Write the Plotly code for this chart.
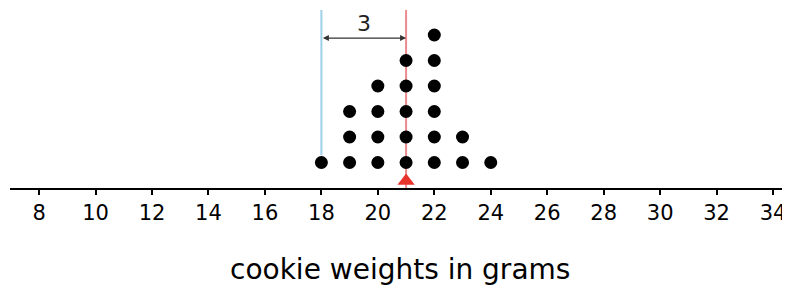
import plotly.graph_objects as go

weights = [18, 19, 20, 21, 22, 23, 24]
counts = [1, 3, 4, 5, 6, 2, 1]
tick_vals = list(range(8, 35, 2))
tick_text = [str(v) for v in tick_vals]
blue_line_x = 18
red_line_x = 21
diff_label = "3"
x_title = "cookie weights in grams"

xs, ys = [], []
for w, c in zip(weights, counts):
    for k in range(1, c + 1):
        xs.append(w)
        ys.append(k)

fig = go.Figure()
fig.add_trace(go.Scatter(x=[blue_line_x, blue_line_x], y=[1.28, 6.98], mode="lines",
                         line=dict(color="#9fd0e8", width=2), hoverinfo="skip"))
fig.add_trace(go.Scatter(x=[red_line_x, red_line_x], y=[0, 6.98], mode="lines",
                         line=dict(color="#ec8a8e", width=2), hoverinfo="skip"))
fig.add_trace(go.Scatter(x=xs, y=ys, mode="markers",
                         marker=dict(color="black", size=13), hoverinfo="skip"))
fig.add_trace(go.Scatter(x=[red_line_x], y=[0.27], mode="markers",
                         marker=dict(symbol="triangle-up", color="#e8332b", size=15, line=dict(width=0)),
                         cliponaxis=False, hoverinfo="skip"))

fig.add_annotation(x=red_line_x, y=5.88, ax=blue_line_x, ay=5.88, xref="x", yref="y",
                   axref="x", ayref="y", showarrow=True, arrowhead=2, arrowside="end+start",
                   arrowsize=1, arrowwidth=1.2, arrowcolor="#333333", text="")
fig.add_annotation(x=(blue_line_x + red_line_x) / 2, y=6.45, xref="x", yref="y",
                   text=diff_label, showarrow=False,
                   font=dict(size=22, color="#222222", family="DejaVu Sans"))
fig.add_annotation(x=0.5, y=-0.45, xref="paper", yref="paper", text=x_title,
                   showarrow=False, yanchor="middle", xanchor="center",
                   font=dict(size=28, color="black", family="DejaVu Sans"))

fig.update_layout(
    width=782, height=278,
    margin=dict(l=2, r=0, t=0, b=98),
    plot_bgcolor="white", paper_bgcolor="white",
    showlegend=False,
    font=dict(family="DejaVu Sans", color="black"),
    xaxis=dict(range=[6.97, 34.6], tickvals=tick_vals, ticktext=tick_text,
               showgrid=False, zeroline=False, showline=True, linecolor="black", linewidth=2,
               ticks="outside", ticklen=5, tickwidth=2, tickcolor="black",
               tickfont=dict(size=21, color="black")),
    yaxis=dict(range=[0, 180 / 25.5], visible=False, showgrid=False, zeroline=False),
)

fig.write_html("out.html")
